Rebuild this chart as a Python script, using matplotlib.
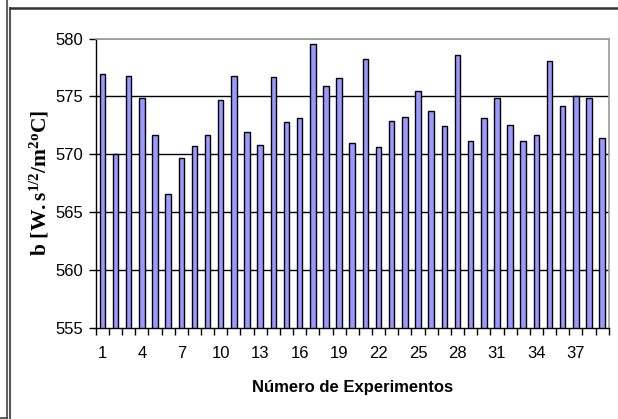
# bar chart of b per experiment
import numpy as np
import matplotlib.pyplot as plt
from matplotlib.lines import Line2D

experiments = np.arange(1, 40)
b_values = [576.9, 570.0, 576.8, 574.9, 571.7, 566.6, 569.7, 570.7, 571.7, 574.7,
            576.8, 571.9, 570.8, 576.7, 572.8, 573.1, 579.5, 575.9, 576.6, 571.0,
            578.2, 570.6, 572.9, 573.2, 575.5, 573.7, 572.4, 578.6, 571.1, 573.1,
            574.9, 572.5, 571.1, 571.7, 578.1, 574.2, 575.0, 574.9, 571.4]
xtick_labels = [1, 4, 7, 10, 13, 16, 19, 22, 25, 28, 31, 34, 37]
yticks = [555, 560, 565, 570, 575, 580]

plt.rcParams['font.family'] = ['Liberation Sans', 'DejaVu Sans']
plt.rcParams['mathtext.fontset'] = 'custom'
plt.rcParams['mathtext.rm'] = 'Liberation Serif:bold'
plt.rcParams['mathtext.bf'] = 'Liberation Serif:bold'
plt.rcParams['mathtext.it'] = 'Liberation Serif:bold'

fig = plt.figure(figsize=(6.18, 4.19), dpi=100)
ax = fig.add_axes([0.155, 0.218, 0.83, 0.69])

# gridlines
for y in yticks[1:-1]:
    ax.axhline(y, color='black', lw=1.0, zorder=1)
ax.axhline(580, color='#999999', lw=1.2, zorder=1)

ax.bar(experiments, b_values, width=0.42, color='#9999FF', edgecolor='black',
       linewidth=1.0, zorder=2)

ax.set_xlim(0.5, 39.5)
ax.set_ylim(555, 580)
ax.set_yticks(yticks)
ax.set_xticks(xtick_labels)
ax.set_xticks(np.arange(0.5, 40.5, 1.0), minor=True)
ax.tick_params(axis='x', which='major', length=0, pad=13, labelsize=12)
ax.tick_params(axis='x', which='minor', length=5, width=1, direction='out')
ax.tick_params(axis='y', length=5, width=1, direction='out', labelsize=12, pad=4)

for s in ['top', 'right']:
    ax.spines[s].set_color('#999999')
    ax.spines[s].set_linewidth(1.2)
for s in ['left', 'bottom']:
    ax.spines[s].set_color('black')
    ax.spines[s].set_linewidth(1.0)

ax.set_xlabel('Número de Experimentos', fontsize=12, fontweight='bold', labelpad=14)
ax.set_ylabel(r'$\mathbf{b\ [W.s^{1/2}/m^{2o}C]}$', fontsize=15.5, labelpad=3)

# outer frame lines
fig.add_artist(Line2D([6.7/618, 6.7/618], [0.002, 1], transform=fig.transFigure,
                      color='#444444', lw=1.2))
fig.add_artist(Line2D([0, 6.7/618], [0.002, 0.002], transform=fig.transFigure,
                      color='#444444', lw=1.2))
fig.add_artist(Line2D([9.5/618, 9.5/618], [0, 1 - 8/419], transform=fig.transFigure,
                      color='#555555', lw=1.5))
fig.add_artist(Line2D([9.5/618, 1], [1 - 8/419, 1 - 8/419], transform=fig.transFigure,
                      color='#333333', lw=1.8))

fig.savefig('out.png', dpi=100)
